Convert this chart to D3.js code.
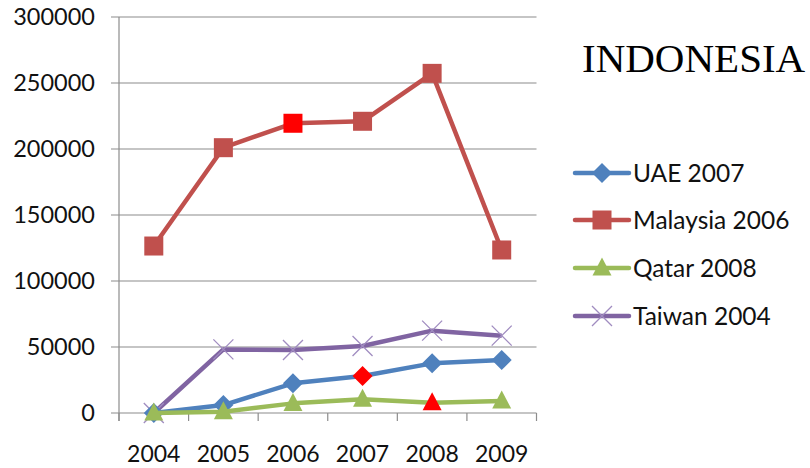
<!DOCTYPE html>
<html><head><meta charset="utf-8">
<script src="https://cdn.jsdelivr.net/npm/d3@7"></script>
<style>html,body{margin:0;padding:0;background:#fff;}svg{display:block;}</style>
</head><body>
<svg id="c" width="810" height="468"></svg>
<script>
const years = ["2004","2005","2006","2007","2008","2009"];
const yTicks = [0,50000,100000,150000,200000,250000,300000];
const uae = [0,6000,22500,28000,37600,40100];
const malaysia = [126500,201000,219500,221000,257300,123500];
const qatar = [0,1000,7300,10400,7800,9100];
const taiwan = [0,48200,47700,50800,62400,58600];
const seriesNames = ["UAE 2007","Malaysia 2006","Qatar 2008","Taiwan 2004"];
const highlightYear = ["2007","2006","2008","2004"];
const title = "INDONESIA";

const colors = ["#4F81BD","#C0504D","#9BBB59","#8064A2"];
const shapes = ["diamond","square","triangle","x"];
const data = [uae, malaysia, qatar, taiwan];

const svg = d3.select("#c");
const L = 119, R = 536.5, T = 17, B = 413;
const x = d3.scaleBand().domain(years).range([L,R]);
const y = d3.scaleLinear().domain([0,300000]).range([B,T]);
const cx = d => x(d) + x.bandwidth()/2;
const font = "Lato, 'Open Sans', sans-serif";
const grid = "#8c8c8c";
const txt = "#111";

svg.append("g").selectAll("line").data(yTicks).join("line")
  .attr("x1", L-8).attr("x2", R).attr("y1", d=>y(d)).attr("y2", d=>y(d))
  .attr("stroke", grid).attr("stroke-width", 1.2);
svg.append("line").attr("x1",L).attr("x2",L).attr("y1",T).attr("y2",B+8)
  .attr("stroke",grid).attr("stroke-width",1.2);
const bounds = years.map(d=>x(d)).concat([R]);
svg.append("g").selectAll("line").data(bounds).join("line")
  .attr("x1",d=>d).attr("x2",d=>d).attr("y1",B).attr("y2",B+8)
  .attr("stroke",grid).attr("stroke-width",1.2);
svg.append("g").selectAll("text").data(yTicks).join("text")
  .attr("x", 95).attr("y", d=>y(d)).attr("dy","0.36em")
  .attr("text-anchor","end").attr("font-family",font).attr("font-size",23.5)
  .attr("fill",txt).text(d=>d);
svg.append("g").selectAll("text").data(years).join("text")
  .attr("x", d=>cx(d)).attr("y", 462)
  .attr("text-anchor","middle").attr("font-family",font).attr("font-size",23)
  .attr("fill",txt).text(d=>d);

function marker(g, shape, color, px, py){
  if(shape==="diamond"){
    const r=10;
    g.append("path").attr("d",`M${px},${py-r}L${px+r},${py}L${px},${py+r}L${px-r},${py}Z`).attr("fill",color);
  } else if(shape==="square"){
    const r=9.5;
    g.append("rect").attr("x",px-r).attr("y",py-r).attr("width",2*r).attr("height",2*r).attr("fill",color);
  } else if(shape==="triangle"){
    const r=9.5;
    g.append("path").attr("d",`M${px},${py-r*1.1}L${px+r},${py+r*0.8}L${px-r},${py+r*0.8}Z`).attr("fill",color);
  } else {
    const r=10;
    g.append("path").attr("d",`M${px-r},${py-r}L${px+r},${py+r}M${px-r},${py+r}L${px+r},${py-r}`)
      .attr("stroke","#A08CC0").attr("stroke-width",1.3).attr("fill","none");
  }
}

const line = d3.line().x((d,i)=>cx(years[i])).y(d=>y(d));
[1,3,0,2].forEach(si=>{
  const g = svg.append("g");
  g.append("path").datum(data[si]).attr("d",line).attr("fill","none")
    .attr("stroke",colors[si]).attr("stroke-width",4.5).attr("stroke-linejoin","round");
  data[si].forEach((v,i)=>{
    const hl = years[i]===highlightYear[si] && shapes[si]!=="x";
    marker(g, shapes[si], hl?"#FF0000":colors[si], cx(years[i]), y(v));
  });
});

const lg = svg.append("g");
const rows = [173,220,268,316];
seriesNames.forEach((n,i)=>{
  lg.append("line").attr("x1",575).attr("x2",629).attr("y1",rows[i]).attr("y2",rows[i])
    .attr("stroke",colors[i]).attr("stroke-width",4.5).attr("stroke-linecap","round");
  marker(lg, shapes[i], colors[i], 602, rows[i]);
  lg.append("text").attr("x",633).attr("y",rows[i]).attr("dy","0.36em")
    .attr("font-family",font).attr("font-size",24.5).attr("fill",txt).text(n);
});

svg.append("text").attr("x",582).attr("y",72).attr("font-family","'Liberation Serif','Times New Roman',serif")
  .attr("font-size",41).attr("fill","#000").text(title);
</script>
</body></html>
